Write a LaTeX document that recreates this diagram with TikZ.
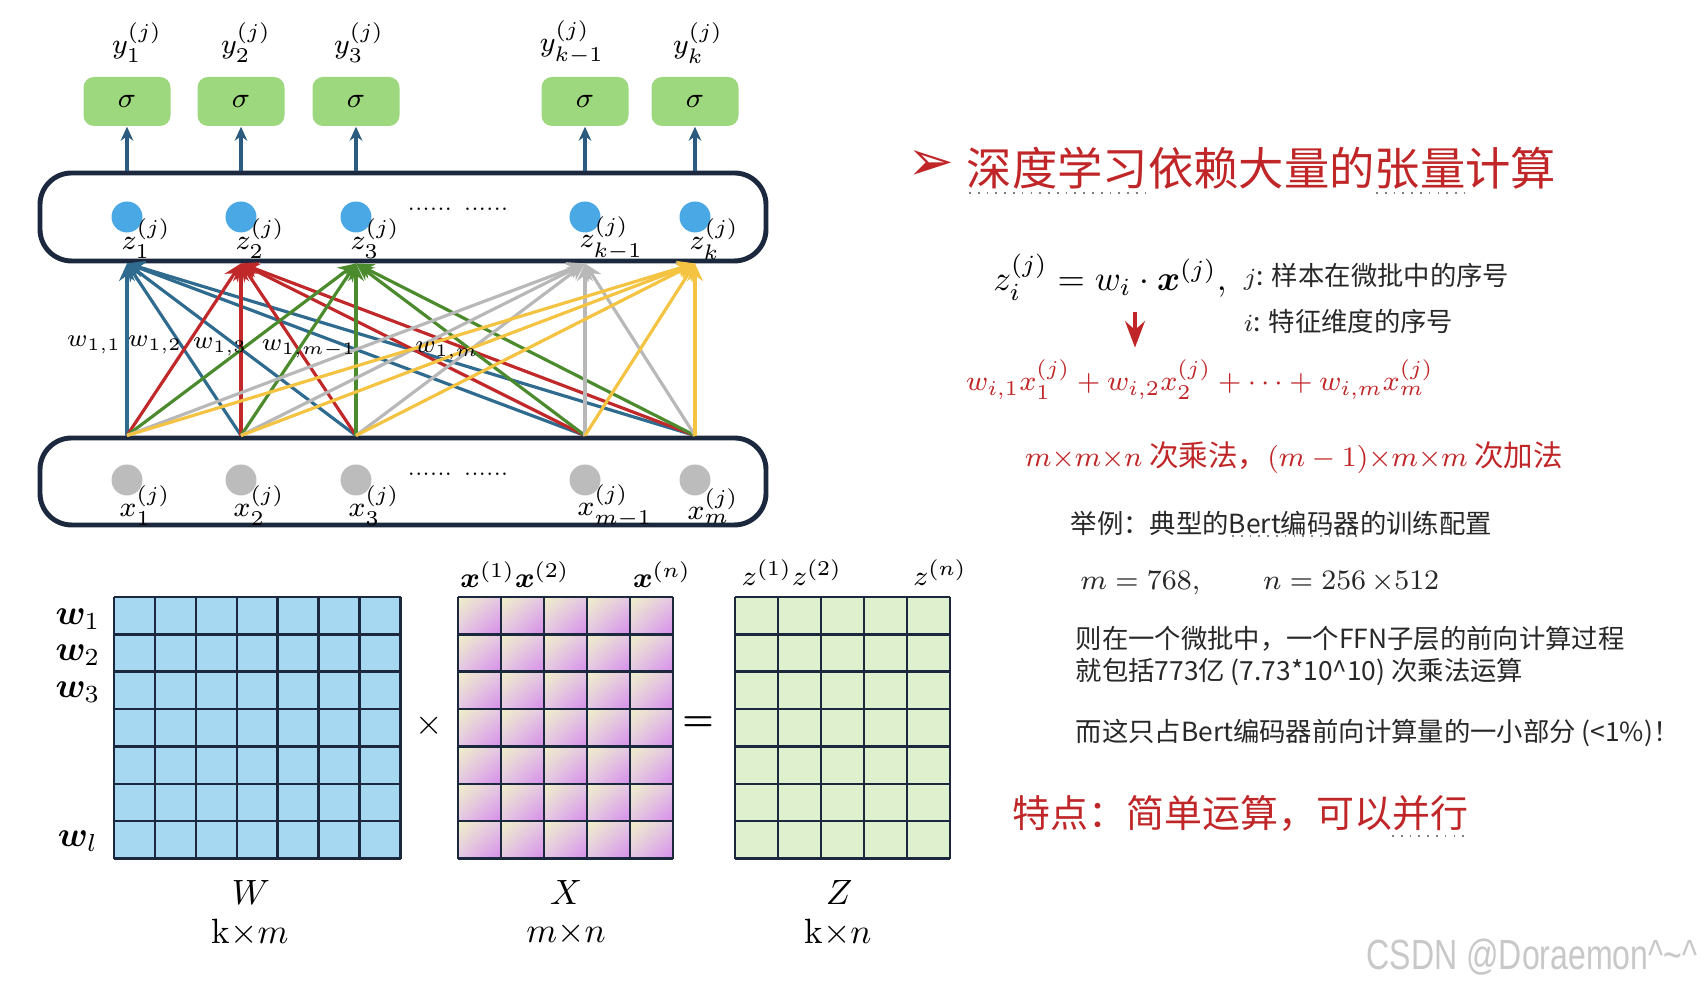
\documentclass[tikz,border=0pt]{standalone}
\usepackage{amsmath,amssymb,bm}
\usepackage{graphicx}
\usepackage{fontspec}
\newfontfamily\cjk{Noto Sans CJK SC}
\newfontfamily\dingfont{DejaVu Sans}
\newfontfamily\markfont{Liberation Sans}
\usepackage{tikz}
\usetikzlibrary{arrows.meta,positioning,calc,shadings}

\definecolor{layerline}{RGB}{28,40,62}
\definecolor{uparrow}{RGB}{43,91,126}
\definecolor{linkblue}{RGB}{47,106,143}
\definecolor{linkred}{RGB}{192,40,42}
\definecolor{linkgreen}{RGB}{75,139,46}
\definecolor{linkgray}{RGB}{184,184,184}
\definecolor{linkyellow}{RGB}{245,195,66}
\definecolor{sigmagreen}{RGB}{158,216,126}
\definecolor{zblue}{RGB}{74,168,228}
\definecolor{xgray}{RGB}{188,188,188}
\definecolor{wfill}{RGB}{166,216,242}
\definecolor{zfill}{RGB}{223,240,207}
\definecolor{xyellow}{RGB}{240,240,200}
\definecolor{xmid}{RGB}{228,200,228}
\definecolor{xviolet}{RGB}{214,140,234}
\definecolor{slidered}{RGB}{192,38,40}
\definecolor{textgray}{RGB}{40,40,40}
\definecolor{markgray}{RGB}{200,200,200}

\begin{document}
\begin{tikzpicture}[>=Stealth,
  layerbox/.style={draw=layerline, line width=1.4pt, rounded corners=9pt, inner sep=0pt},
  sigbox/.style={fill=sigmagreen, rounded corners=3pt, minimum width=0.87cm, minimum height=0.49cm, inner sep=0pt},
  zdot/.style={circle, fill=zblue, minimum size=0.31cm, inner sep=0pt},
  xdot/.style={circle, fill=xgray, minimum size=0.31cm, inner sep=0pt},
  netlabel/.style={font=\fontsize{8.5}{10}\selectfont, inner sep=0pt},
  wlabel/.style={font=\fontsize{7.5}{9}\selectfont, inner sep=0pt},
  link/.style={line width=0.9pt, -{Stealth[length=5pt,width=4.5pt]}},
  gridline/.style={draw=layerline, line width=0.7pt},
  matlabel/.style={inner sep=0pt},
  bodytext/.style={font=\fontsize{7.5}{9}\selectfont\cjk, text=textgray, anchor=west, inner sep=0pt},
  squiggle/.style={draw=gray, dotted, line width=0.5pt},
]
\path[fill=white, use as bounding box] (0,0) rectangle (17.02,9.88);

% layers
\node[layerbox, minimum width=7.26cm, minimum height=0.88cm] (zbox) at (4.03,7.71) {};
\node[layerbox, minimum width=7.26cm, minimum height=0.87cm] (xbox) at (4.03,5.065) {};
\node[netlabel, font=\fontsize{6}{7}\selectfont] (zdots) at (4.58,7.79) {...... ......};
\node[netlabel, font=\fontsize{6}{7}\selectfont] (xdots) at (4.58,5.14) {...... ......};

\foreach \c/\px/\yx/\lab/\xlab in {1/1.27/1.37/1/1, 2/2.41/2.46/2/2, 3/3.56/3.59/3/3, 4/5.85/5.72/k-1/m-1, 5/6.95/6.98/k/m} {
  \node[sigbox] (s\c) at (\px,8.865) {\fontsize{8.5}{10}\selectfont$\sigma$};
  \node[netlabel] (y\c) at (\yx,9.45) {$y_{\lab}^{(j)}$};
  \node[zdot] (z\c) at (\px,7.71) {};
  \node[xdot] (x\c) at (\px,5.08) {};
  \node[netlabel, anchor=west] (zl\c) at ({\px-0.06},7.49) {$z_{\lab}^{(j)}$};
  \node[netlabel, anchor=west] (xl\c) at ({\px-0.08},4.82) {$x_{\xlab}^{(j)}$};
  \draw[uparrow, line width=1.1pt, -{Stealth[length=4pt,width=3.6pt]}] (s\c |- zbox.north) -- (s\c.south);
}

% all-to-all weights
\foreach \t/\col in {1/linkblue, 2/linkred, 3/linkgreen, 4/linkgray, 5/linkyellow}
  \foreach \s in {1,...,5}
    \draw[link, \col] (x\s |- xbox.north) -- (z\t |- zbox.south);

\node[wlabel] (w11) at (0.94,6.43) {$w_{1,1}$};
\node[wlabel] (w12) at (1.55,6.43) {$w_{1,2}$};
\node[wlabel] (w13) at (2.20,6.41) {$w_{1,3}$};
\node[wlabel] (w1m1) at (3.09,6.39) {$w_{1,m-1}$};
\node[wlabel] (w1m) at (4.47,6.37) {$w_{1,m}$};

% matrices
\fill[wfill] (1.14,1.294) rectangle (4.005,3.91);
\foreach \k in {0,...,7} {
  \draw[gridline] ({1.14+\k*0.40929},1.294) -- ++(0,2.616);
  \draw[gridline] (1.14,{1.294+\k*0.37371}) -- ++(2.865,0);
}
\foreach \i in {0,...,4}
  \foreach \j in {0,...,6}
    \shade[upper left=xyellow, upper right=xmid, lower left=xmid, lower right=xviolet]
      ({4.58+\i*0.43},{1.294+\j*0.37371}) rectangle ++(0.43,0.37371);
\fill[zfill] (7.35,1.294) rectangle (9.50,3.91);
\foreach \k in {0,...,5} {
  \draw[gridline] ({4.58+\k*0.43},1.294) -- ++(0,2.616);
  \draw[gridline] ({7.35+\k*0.43},1.294) -- ++(0,2.616);
}
\foreach \k in {0,...,7} {
  \draw[gridline] (4.58,{1.294+\k*0.37371}) -- ++(2.15,0);
  \draw[gridline] (7.35,{1.294+\k*0.37371}) -- ++(2.15,0);
}

\node[matlabel] (w1) at (0.78,3.69) {$\boldsymbol{w}_1$};
\node[matlabel] (w2) at (0.78,3.33) {$\boldsymbol{w}_2$};
\node[matlabel] (w3) at (0.78,2.955) {$\boldsymbol{w}_3$};
\node[matlabel] (wl) at (0.78,1.47) {$\boldsymbol{w}_l$};
\node[matlabel, font=\fontsize{8.5}{10}\selectfont] (xcols) at (5.15,4.13) {$\boldsymbol{x}^{(1)}\boldsymbol{x}^{(2)}$};
\node[matlabel, font=\fontsize{8.5}{10}\selectfont] (xn) at (6.62,4.13) {$\boldsymbol{x}^{(n)}$};
\node[matlabel, font=\fontsize{8.5}{10}\selectfont] (zcols) at (7.92,4.15) {$z^{(1)}z^{(2)}$};
\node[matlabel, font=\fontsize{8.5}{10}\selectfont] (zn) at (9.40,4.15) {$z^{(n)}$};
\node[matlabel] (times) at (4.29,2.62) {$\times$};
\node[matlabel] (equals) at (6.98,2.64) {$\boldsymbol{=}$};
\node[matlabel] (Wname) at (2.51,0.955) {$W$};
\node[matlabel] (Wsize) at (2.50,0.55) {k${\times}m$};
\node[matlabel] (Xname) at (5.66,0.955) {$X$};
\node[matlabel] (Xsize) at (5.66,0.54) {$m{\times}n$};
\node[matlabel] (Zname) at (8.39,0.955) {$Z$};
\node[matlabel] (Zsize) at (8.38,0.55) {k${\times}n$};

% right column
\node[text=slidered, font=\fontsize{16}{18}\selectfont\dingfont] (bullet) at (9.31,8.22) {➢};
\node[anchor=west, inner sep=0pt, text=slidered, font=\fontsize{12.9}{15}\selectfont\cjk] (title) at (9.66,8.20) {深度学习依赖大量的张量计算};
\draw[squiggle] (9.69,7.95) -- (11.48,7.95);
\draw[squiggle] (13.76,7.95) -- (14.65,7.95);

\node[font=\fontsize{10}{12}\selectfont] (zeq) at (11.10,7.11) {$z_i^{(j)} = w_i\cdot\boldsymbol{x}^{(j)},$};
\node[bodytext] (jnote) at (12.43,7.11) {$j$: 样本在微批中的序号};
\node[bodytext] (inote) at (12.43,6.67) {$i$: 特征维度的序号};
\node[text=slidered, font=\fontsize{8.4}{10}\selectfont] (wsum) at (12.00,6.08)
  {$w_{i,1}x_1^{(j)}+w_{i,2}x_2^{(j)}+\cdots+w_{i,m}x_m^{(j)}$};
\coordinate (zeqfoot) at (11.35,6.76);
\draw[->, slidered, line width=1pt] (zeqfoot) -- (zeqfoot |- wsum.north);
\node[text=slidered, font=\fontsize{8.4}{10}\selectfont\cjk] (opcount) at (12.94,5.30)
  {$m{\times}m{\times}n$ 次乘法，$(m-1){\times}m{\times}m$ 次加法};

\node[bodytext] (example) at (10.70,4.65) {举例：典型的Bert编码器的训练配置};
\draw[squiggle] (12.32,4.52) -- (13.58,4.52);
\node[bodytext, font=\fontsize{8.3}{10}\selectfont] (sizes) at (10.80,4.05) {$m=768,\qquad n=256\,{\times}512$};
\node[bodytext, align=left] (ffn) at (10.75,3.318)
  {则在一个微批中，一个FFN子层的前向计算过程\\就包括773亿 (7.73*10\textasciicircum10) 次乘法运算};
\node[bodytext] (share) at (10.75,2.553) {而这只占Bert编码器前向计算量的一小部分 (<1\%)！};
\node[anchor=west, inner sep=0pt, text=slidered, font=\fontsize{10.8}{13}\selectfont\cjk] (feature) at (10.12,1.74) {特点：简单运算，可以并行};
\draw[squiggle] (13.92,1.52) -- (14.66,1.52);

\node[anchor=west, inner sep=0pt, text=markgray] (mark) at (13.66,0.306)
  {\scalebox{0.76}[1]{\fontsize{12}{14}\selectfont\markfont CSDN @Doraemon\textasciicircum\textasciitilde\textasciicircum}};
\end{tikzpicture}
\end{document}
